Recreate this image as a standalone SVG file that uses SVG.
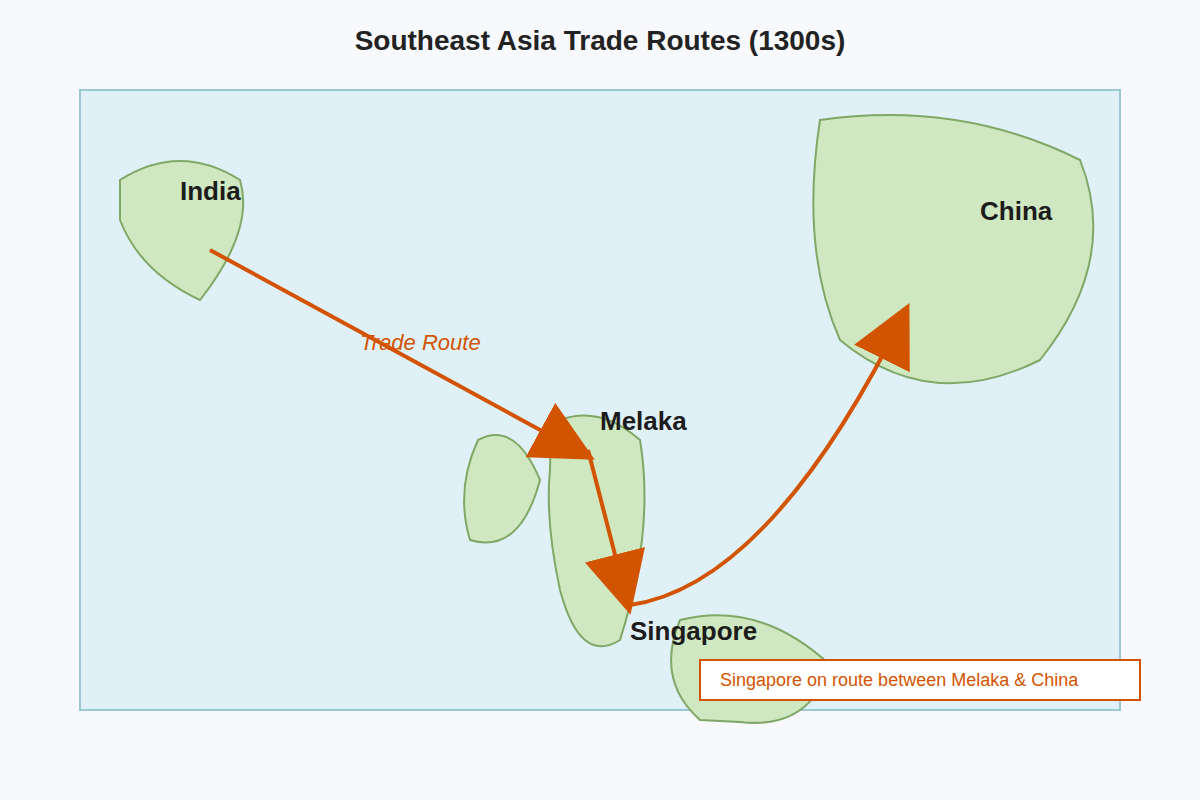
<svg xmlns="http://www.w3.org/2000/svg" width="1200" height="800" viewBox="0 0 1200 800">
<style>
.land{fill:#d0e8c2;stroke:#7fa866;stroke-width:2}
.lbl{font-family:"Liberation Sans",Arial,sans-serif;font-weight:bold;font-size:26px;fill:#1c1c1c}
.route{fill:none;stroke:#d35400;stroke-width:4;marker-end:url(#ah)}
</style>
<defs><marker id="ah" markerUnits="userSpaceOnUse" markerWidth="64" markerHeight="64" refX="52" refY="31" orient="auto"><path d="M0,0 L62,31 L0,62 Z" fill="#d35400"/></marker></defs>
<rect width="1200" height="800" fill="#f7f9fc"/>
<text x="600" y="50" text-anchor="middle" font-family="Liberation Sans,Arial,sans-serif" font-weight="bold" font-size="28" fill="#222">Southeast Asia Trade Routes (1300s)</text>
<rect x="80" y="90" width="1040" height="620" fill="#e0f0f7" stroke="#9cc8d6" stroke-width="2"/>
<g id="india"><path class="land" d="M120,180 Q180,142 240,180 Q255,230 200,300 Q140,272 120,220 Z"/><text class="lbl" x="180" y="200">India</text></g>
<g id="china"><path class="land" d="M820,120 Q960,100 1080,160 Q1120,260 1040,360 Q930,415 840,340 Q800,250 820,120 Z"/><text class="lbl" x="980" y="220">China</text></g>
<g id="sumatra"><path class="land" d="M478,440 Q515,420 540,480 Q520,555 470,540 Q455,490 478,440 Z"/></g>
<g id="melaka"><path class="land" d="M560,420 Q600,405 640,440 Q655,530 620,640 Q580,665 560,590 Q545,520 550,470 Q550,430 560,420 Z"/><text class="lbl" x="600" y="430">Melaka</text></g>
<g id="singapore"><path class="land" d="M680,620 Q760,600 830,665 Q810,730 740,722 L700,720 Q655,680 680,620 Z"/><text class="lbl" x="630" y="640">Singapore</text></g>
<g id="connectors">
<path class="route" d="M210,250 L586,455"/>
<path class="route" d="M588,450 L628,605"/>
<path class="route" d="M630,605 Q770,585 905,312"/>
<text x="360" y="350" font-family="Liberation Sans,Arial,sans-serif" font-style="italic" font-size="22" fill="#d35400">Trade Route</text>
</g>
<g id="legend"><rect x="700" y="660" width="440" height="40" fill="#fff" stroke="#d35400" stroke-width="2"/><text x="720" y="686" font-family="Liberation Sans,Arial,sans-serif" font-size="18" fill="#d35400">Singapore on route between Melaka &amp; China</text></g>
</svg>
